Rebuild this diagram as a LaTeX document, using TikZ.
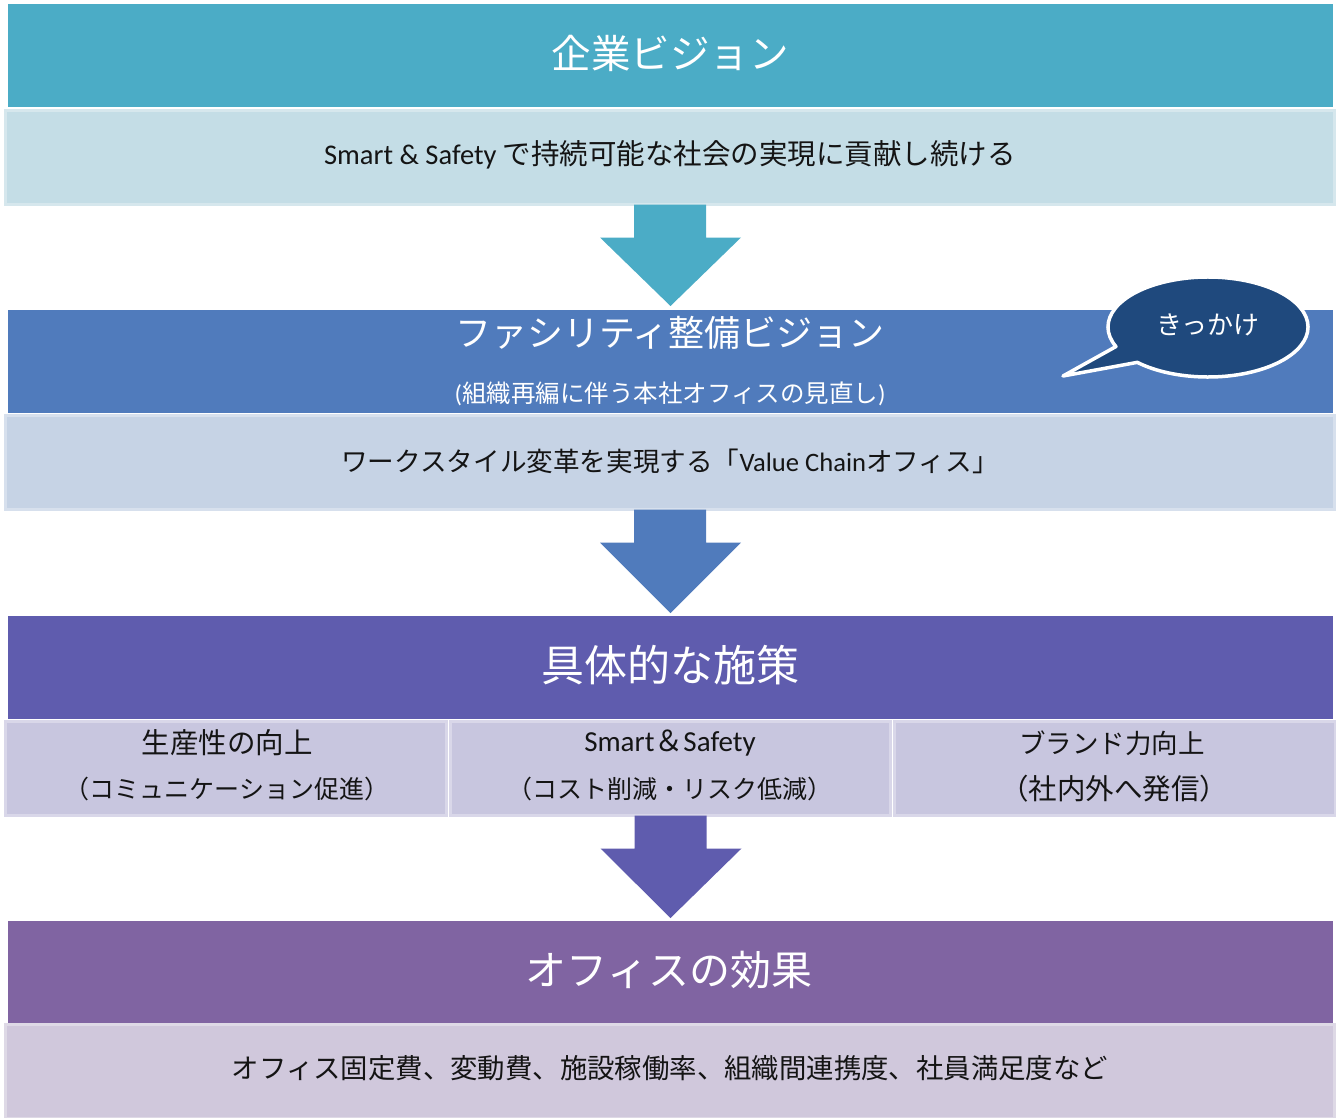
\documentclass[tikz,border=0pt]{standalone}
\usepackage{fontspec}
\setmainfont{Noto Sans CJK JP}
\newfontfamily\lat{Carlito}
\usetikzlibrary{calc}
\definecolor{hA}{HTML}{4BACC6}
\definecolor{bA}{HTML}{C4DDE6}
\definecolor{hB}{HTML}{507BBC}
\definecolor{bB}{HTML}{C6D3E5}
\definecolor{hC}{HTML}{5F5CAE}
\definecolor{bC}{HTML}{C8C6DF}
\definecolor{hD}{HTML}{8064A2}
\definecolor{bD}{HTML}{D0C8DC}
\definecolor{callc}{HTML}{1F497D}
\definecolor{ink}{HTML}{141414}
\newcommand{\fs}[1]{\fontsize{#1}{#1}\selectfont}
\tikzset{
  header/.style={fill=#1, draw=none, rectangle, inner sep=0, minimum width=1325pt, minimum height=103pt, anchor=north},
  bodybox/.style={fill=#1, draw=#1!70!white, line width=3pt, rectangle, inner sep=0, minimum height=94pt, anchor=north},
  ttl/.style={text=white, inner sep=0},
  sub/.style={text=white, font=\fs{24.5}, inner sep=0},
  body/.style={text=ink, inner sep=0},
  blockarrow/.style={fill=#1, draw=none},
  callout/.style={fill=callc, draw=white, line width=3.5pt, line join=round}
}
\begin{document}
\begin{tikzpicture}[x=1pt,y=-1pt]
\useasboundingbox (0,0) rectangle (1336,1117);
% level 1
\node[header=hA] (h1) at (670.5,4) {};
\node[ttl, font=\fs{39.5}] (t1) at (670,53) {企業ビジョン};
\node[bodybox=bA, minimum width=1329pt] (b1) at (670,109) {};
\node[body, font=\fs{28.5}] (x1) at (670,155) {{\lat Smart \& Safety} で持続可能な社会の実現に貢献し続ける};
% level 2
\node[header=hB] (h2) at (670.5,310) {};
\node[ttl, font=\fs{36}] (t2) at (670,333) {ファシリティ整備ビジョン};
\node[sub] (s2) at (670,394) {{\lat (}組織再編に伴う本社オフィスの見直し{\lat )}};
\node[bodybox=bB, minimum width=1329pt] (b2) at (670,414) {};
\node[body, font=\fs{26.6}] (x2) at (670,461) {ワークスタイル変革を実現する「{\lat Value Chain}オフィス」};
% level 3
\node[header=hC] (h3) at (670.5,616) {};
\node[ttl, font=\fs{43}] (t3) at (670,665) {具体的な施策};
\node[bodybox=bC, minimum width=441pt] (c1) at (226,720) {};
\node[bodybox=bC, minimum width=440pt] (c2) at (670.5,720) {};
\node[bodybox=bC, minimum width=441pt] (c3) at (1114.5,720) {};
\node[body, font=\fs{28.5}] (c1a) at (227,743) {生産性の向上};
\node[body, font=\fs{25}] (c1b) at (227,789) {（コミュニケーション促進）};
\node[body, font=\fs{29}] (c2a) at (670,743) {{\lat Smart}＆{\lat Safety}};
\node[body, font=\fs{25}] (c2b) at (670,789) {（コスト削減・リスク低減）};
\node[body, font=\fs{26.5}] (c3a) at (1112,743) {ブランド力向上};
\node[body, font=\fs{28.5}] (c3b) at (1114,789) {（社内外へ発信）};
% level 4
\node[header=hD] (h4) at (670.5,921) {};
\node[ttl, font=\fs{41}] (t4) at (669,970) {オフィスの効果};
\node[bodybox=bD, minimum width=1329pt] (b4) at (670,1023) {};
\node[body, font=\fs{27.4}] (x4) at (670,1068) {オフィス固定費、変動費、施設稼働率、組織間連携度、社員満足度など};
% block arrows
\fill[blockarrow=hA] ($(b1.south)+(-36,-1.5)$) -- ++(0,33) -- ++(-34,0) -- ($(h2.north)+(0,-4)$) -- ($(b1.south)+(71,31.5)$) -- ++(-35,0) -- ++(0,-33) -- cycle;
\fill[blockarrow=hB] ($(b2.south)+(-36,-1.5)$) -- ++(0,33) -- ++(-34,0) -- ($(h3.north)+(0,-3)$) -- ($(b2.south)+(71,31.5)$) -- ++(-35,0) -- ++(0,-33) -- cycle;
\fill[blockarrow=hC] ($(c2.south)+(-36,-1.5)$) -- ++(0,33) -- ++(-34,0) -- ($(h4.north)+(0,-3)$) -- ($(c2.south)+(71,31.5)$) -- ++(-35,0) -- ++(0,-33) -- cycle;
% callout
\coordinate (tip) at (1063,376);
\draw[callout] (1208,327) ++(157:100 and 50) arc[start angle=157, end angle=495, x radius=100, y radius=50] -- (tip) -- cycle;
\node[text=white, font=\fs{26}, inner sep=0] (kk) at (1208,325) {きっかけ};
\end{tikzpicture}
\end{document}
